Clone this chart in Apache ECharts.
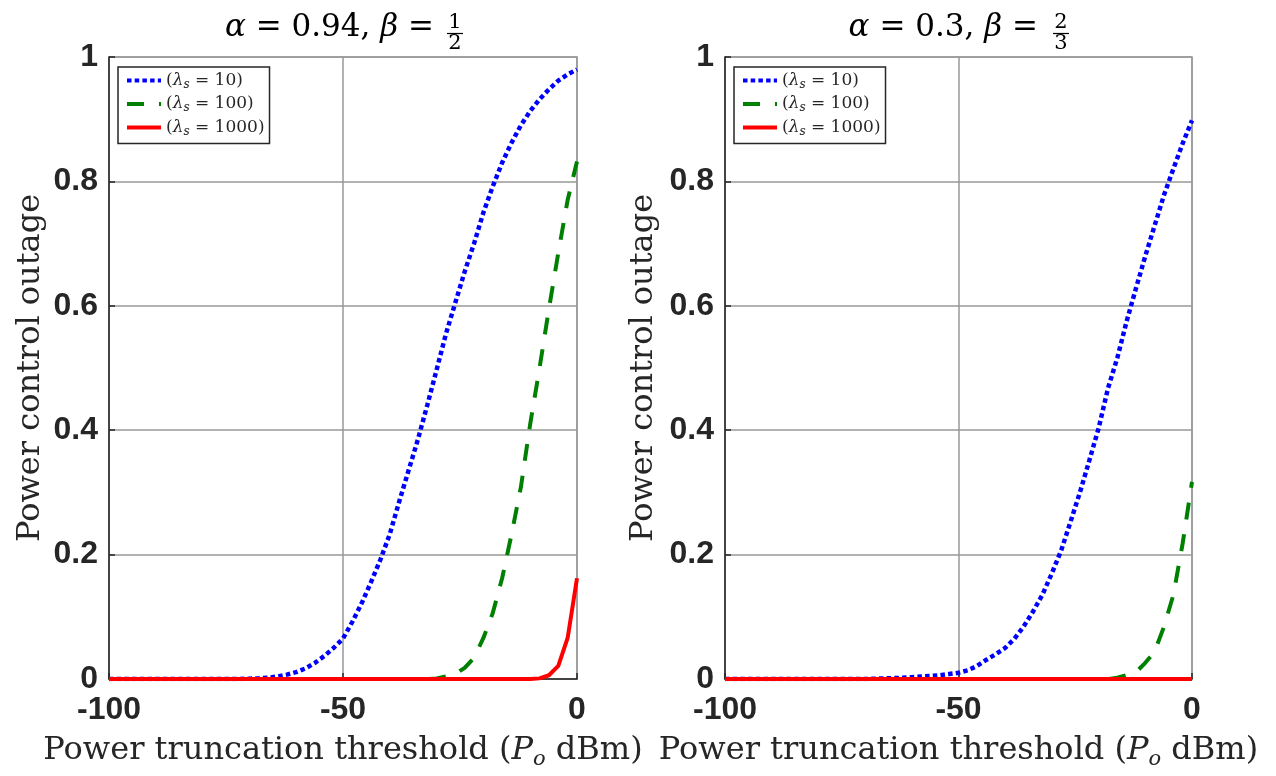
<!DOCTYPE html>
<html>
<head>
<meta charset="utf-8">
<script src="https://cdn.jsdelivr.net/npm/echarts@6/dist/echarts.min.js"></script>
<style>
  html, body { margin: 0; padding: 0; background: #fff; }
  #chart { width: 1276px; height: 776px; }
</style>
</head>
<body>
<div id="chart"></div>
<script>
// Power truncation threshold grid (dBm)
const dbm = [-100, -98, -96, -94, -92, -90, -88, -86, -84, -82,
             -80, -78, -76, -74, -72, -70, -68, -66, -64, -62,
             -60, -58, -56, -54, -52, -50, -48, -46, -44, -42,
             -40, -38, -36, -34, -32, -30, -28, -26, -24, -22,
             -20, -18, -16, -14, -12, -10, -8, -6, -4, -2, 0];

const lambdas = [10, 100, 1000];
const xTicks = [-100, -50, 0];
const yTicks = [0, 0.2, 0.4, 0.6, 0.8, 1];

// alpha = 0.94, beta = 1/2
const leftL10 = [0, 0, 0, 0, 0, 0, 0, 0, 0, 0,
                 0, 0, 0, 0, 0, 0.0005, 0.001, 0.002, 0.004, 0.007,
                 0.011, 0.017, 0.026, 0.037, 0.05, 0.065, 0.092, 0.122, 0.156, 0.192,
                 0.233, 0.285, 0.335, 0.385, 0.44, 0.497, 0.555, 0.605, 0.655, 0.70,
                 0.75, 0.792, 0.83, 0.862, 0.89, 0.913, 0.932, 0.948, 0.962, 0.972, 0.98];
const leftL100 = [0, 0, 0, 0, 0, 0, 0, 0, 0, 0,
                  0, 0, 0, 0, 0, 0, 0, 0, 0, 0,
                  0, 0, 0, 0, 0, 0, 0, 0, 0, 0,
                  0, 0, 0, 0, 0, 0.001, 0.004, 0.008, 0.018, 0.034,
                  0.066, 0.106, 0.162, 0.232, 0.308, 0.41, 0.50, 0.595, 0.685, 0.77, 0.832];
const leftL1000 = [0, 0, 0, 0, 0, 0, 0, 0, 0, 0,
                   0, 0, 0, 0, 0, 0, 0, 0, 0, 0,
                   0, 0, 0, 0, 0, 0, 0, 0, 0, 0,
                   0, 0, 0, 0, 0, 0, 0, 0, 0, 0,
                   0, 0, 0, 0, 0, 0, 0.001, 0.006, 0.021, 0.066, 0.162];

// alpha = 0.3, beta = 2/3
const rightL10 = [0, 0, 0, 0, 0, 0, 0, 0, 0, 0,
                  0, 0, 0, 0, 0, 0, 0.0005, 0.001, 0.0015, 0.002,
                  0.003, 0.004, 0.005, 0.006, 0.008, 0.01, 0.014, 0.021, 0.031, 0.04,
                  0.05, 0.065, 0.085, 0.109, 0.136, 0.17, 0.207, 0.253, 0.30, 0.351,
                  0.403, 0.467, 0.516, 0.575, 0.628, 0.68, 0.729, 0.778, 0.82, 0.861, 0.898];
const rightL100 = [0, 0, 0, 0, 0, 0, 0, 0, 0, 0,
                   0, 0, 0, 0, 0, 0, 0, 0, 0, 0,
                   0, 0, 0, 0, 0, 0, 0, 0, 0, 0,
                   0, 0, 0, 0, 0, 0, 0, 0, 0, 0,
                   0, 0, 0.002, 0.006, 0.011, 0.026, 0.044, 0.084, 0.135, 0.218, 0.317];
const rightL1000 = [0, 0, 0, 0, 0, 0, 0, 0, 0, 0,
                    0, 0, 0, 0, 0, 0, 0, 0, 0, 0,
                    0, 0, 0, 0, 0, 0, 0, 0, 0, 0,
                    0, 0, 0, 0, 0, 0, 0, 0, 0, 0,
                    0, 0, 0, 0, 0, 0, 0, 0, 0, 0, 0];

const panels = [
  { alpha: '0.94', num: '1', den: '2', curves: [leftL10, leftL100, leftL1000] },
  { alpha: '0.3',  num: '2', den: '3', curves: [rightL10, rightL100, rightL1000] }
];

const SERIF = '"DejaVu Serif", serif';
const SANS = '"Liberation Sans", Arial, sans-serif';
const INK = '#262626';
const GRID = '#999999';

const curveStyles = [
  { color: '#0000ff', width: 4.5, type: [4.5, 3.2], cap: 'butt' },
  { color: '#008000', width: 4, type: [17, 15], cap: 'butt' },
  { color: '#ff0000', width: 4, type: 'solid' }
];

const names = lambdas.map(l => 'λs = ' + l);

const serifRich = {
  it: { fontFamily: SERIF, fontStyle: 'italic', fontSize: 32, color: INK, lineHeight: 38 },
  sub: { fontFamily: SERIF, fontStyle: 'italic', fontSize: 21, color: INK, lineHeight: 22, verticalAlign: 'bottom' }
};

const legendRich = {
  t: { fontFamily: SERIF, fontSize: 17, color: INK, lineHeight: 20 },
  l: { fontFamily: SERIF, fontStyle: 'italic', fontSize: 17, color: INK, lineHeight: 20 },
  s: { fontFamily: SERIF, fontStyle: 'italic', fontSize: 12, color: INK, lineHeight: 12, verticalAlign: 'bottom' }
};

const gridRects = [
  { left: 109, right: 699, top: 57, bottom: 97 },
  { left: 725, right: 84, top: 57, bottom: 97 }
];

const option = {
  animation: false,
  backgroundColor: '#ffffff',
  grid: gridRects.map(r => Object.assign({ show: true, borderColor: GRID, borderWidth: 1.5, containLabel: false }, r)),
  xAxis: gridRects.map((r, i) => ({
    type: 'value', gridIndex: i, min: -100, max: 0, interval: 50,
    name: 'Power truncation threshold ({it|P}{sub|o} dBm)',
    nameLocation: 'middle', nameGap: 53,
    nameTextStyle: { fontFamily: SERIF, fontSize: 32, color: INK, rich: serifRich },
    axisLine: { show: true, onZero: false, lineStyle: { color: INK, width: 1.5 } },
    axisTick: { show: true, inside: true, length: 6, lineStyle: { color: INK, width: 1.5 } },
    axisLabel: {
      margin: 15, fontFamily: SANS, fontWeight: 'bold', fontSize: 32, color: INK,
      formatter: v => (xTicks.indexOf(v) >= 0 ? String(v) : '')
    },
    splitLine: { show: true, lineStyle: { color: GRID, width: 1.5 } }
  })),
  yAxis: gridRects.map((r, i) => ({
    type: 'value', gridIndex: i, min: 0, max: 1, interval: 0.2,
    name: 'Power control outage',
    nameLocation: 'middle', nameGap: i === 0 ? 62 : 65,
    nameTextStyle: { fontFamily: SERIF, fontSize: 32, color: INK },
    axisLine: { show: true, onZero: false, lineStyle: { color: INK, width: 1.5 } },
    axisTick: { show: true, inside: true, length: 6, lineStyle: { color: INK, width: 1.5 } },
    axisLabel: {
      margin: 11, fontFamily: SANS, fontWeight: 'bold', fontSize: 32, color: INK,
      formatter: v => {
        const t = yTicks.find(k => Math.abs(k - v) < 1e-9);
        return t === undefined ? '' : String(t);
      }
    },
    splitLine: { show: true, lineStyle: { color: GRID, width: 1.5 } }
  })),
  legend: [0, 1].map(i => ({
    show: true,
    orient: 'vertical',
    left: i === 0 ? 118 : 734,
    top: 67,
    data: names,
    selectedMode: false,
    itemWidth: 34,
    itemHeight: 20,
    itemGap: 5,
    padding: [5, 5, 6, 7],
    borderColor: INK,
    borderWidth: 1.5,
    backgroundColor: '#ffffff',
    lineStyle: { width: 4 },
    itemStyle: { opacity: 0 },
    formatter: name => {
      const l = name.replace('λs = ', '');
      return '{t|(}{l|λ}{s|s}{t| = ' + l + ')}';
    },
    textStyle: { fontFamily: SERIF, fontSize: 17, color: INK, rich: legendRich }
  })),
  series: [],
  graphic: []
};

panels.forEach((p, i) => {
  p.curves.forEach((vals, k) => {
    option.series.push({
      type: 'line',
      name: names[k],
      xAxisIndex: i,
      yAxisIndex: i,
      symbol: 'none',
      showSymbol: false,
      smooth: false,
      lineStyle: curveStyles[k],
      itemStyle: { color: curveStyles[k].color },
      emphasis: { disabled: true },
      data: dbm.map((x, j) => [x, vals[j]])
    });
  });
});

// Panel titles: "α = …, β = " followed by a stacked fraction
const titleAnchors = [
  { right: 434, frac: 455 },
  { right: 1038, frac: 1061 }
];
panels.forEach((p, i) => {
  const a = titleAnchors[i];
  option.graphic.push(
    {
      type: 'text', x: a.right, y: 28,
      style: {
        text: '{g|α} = ' + p.alpha + ', {g|β} =',
        align: 'right', verticalAlign: 'middle',
        fontFamily: SERIF, fontSize: 31, fill: '#000',
        rich: { g: { fontFamily: SERIF, fontStyle: 'italic', fontSize: 31, fill: '#000' } }
      }
    },
    {
      type: 'text', x: a.frac, y: 23,
      style: { text: p.num, align: 'center', verticalAlign: 'middle', fontFamily: SERIF, fontSize: 21, fill: '#000' }
    },
    {
      type: 'line',
      shape: { x1: a.frac - 8, y1: 33.5, x2: a.frac + 8, y2: 33.5 },
      style: { stroke: '#000', lineWidth: 1.2 }
    },
    {
      type: 'text', x: a.frac, y: 44,
      style: { text: p.den, align: 'center', verticalAlign: 'middle', fontFamily: SERIF, fontSize: 21, fill: '#000' }
    }
  );
});

const chart = echarts.init(document.getElementById('chart'), null, { renderer: 'canvas' });
chart.setOption(option);
</script>
</body>
</html>
